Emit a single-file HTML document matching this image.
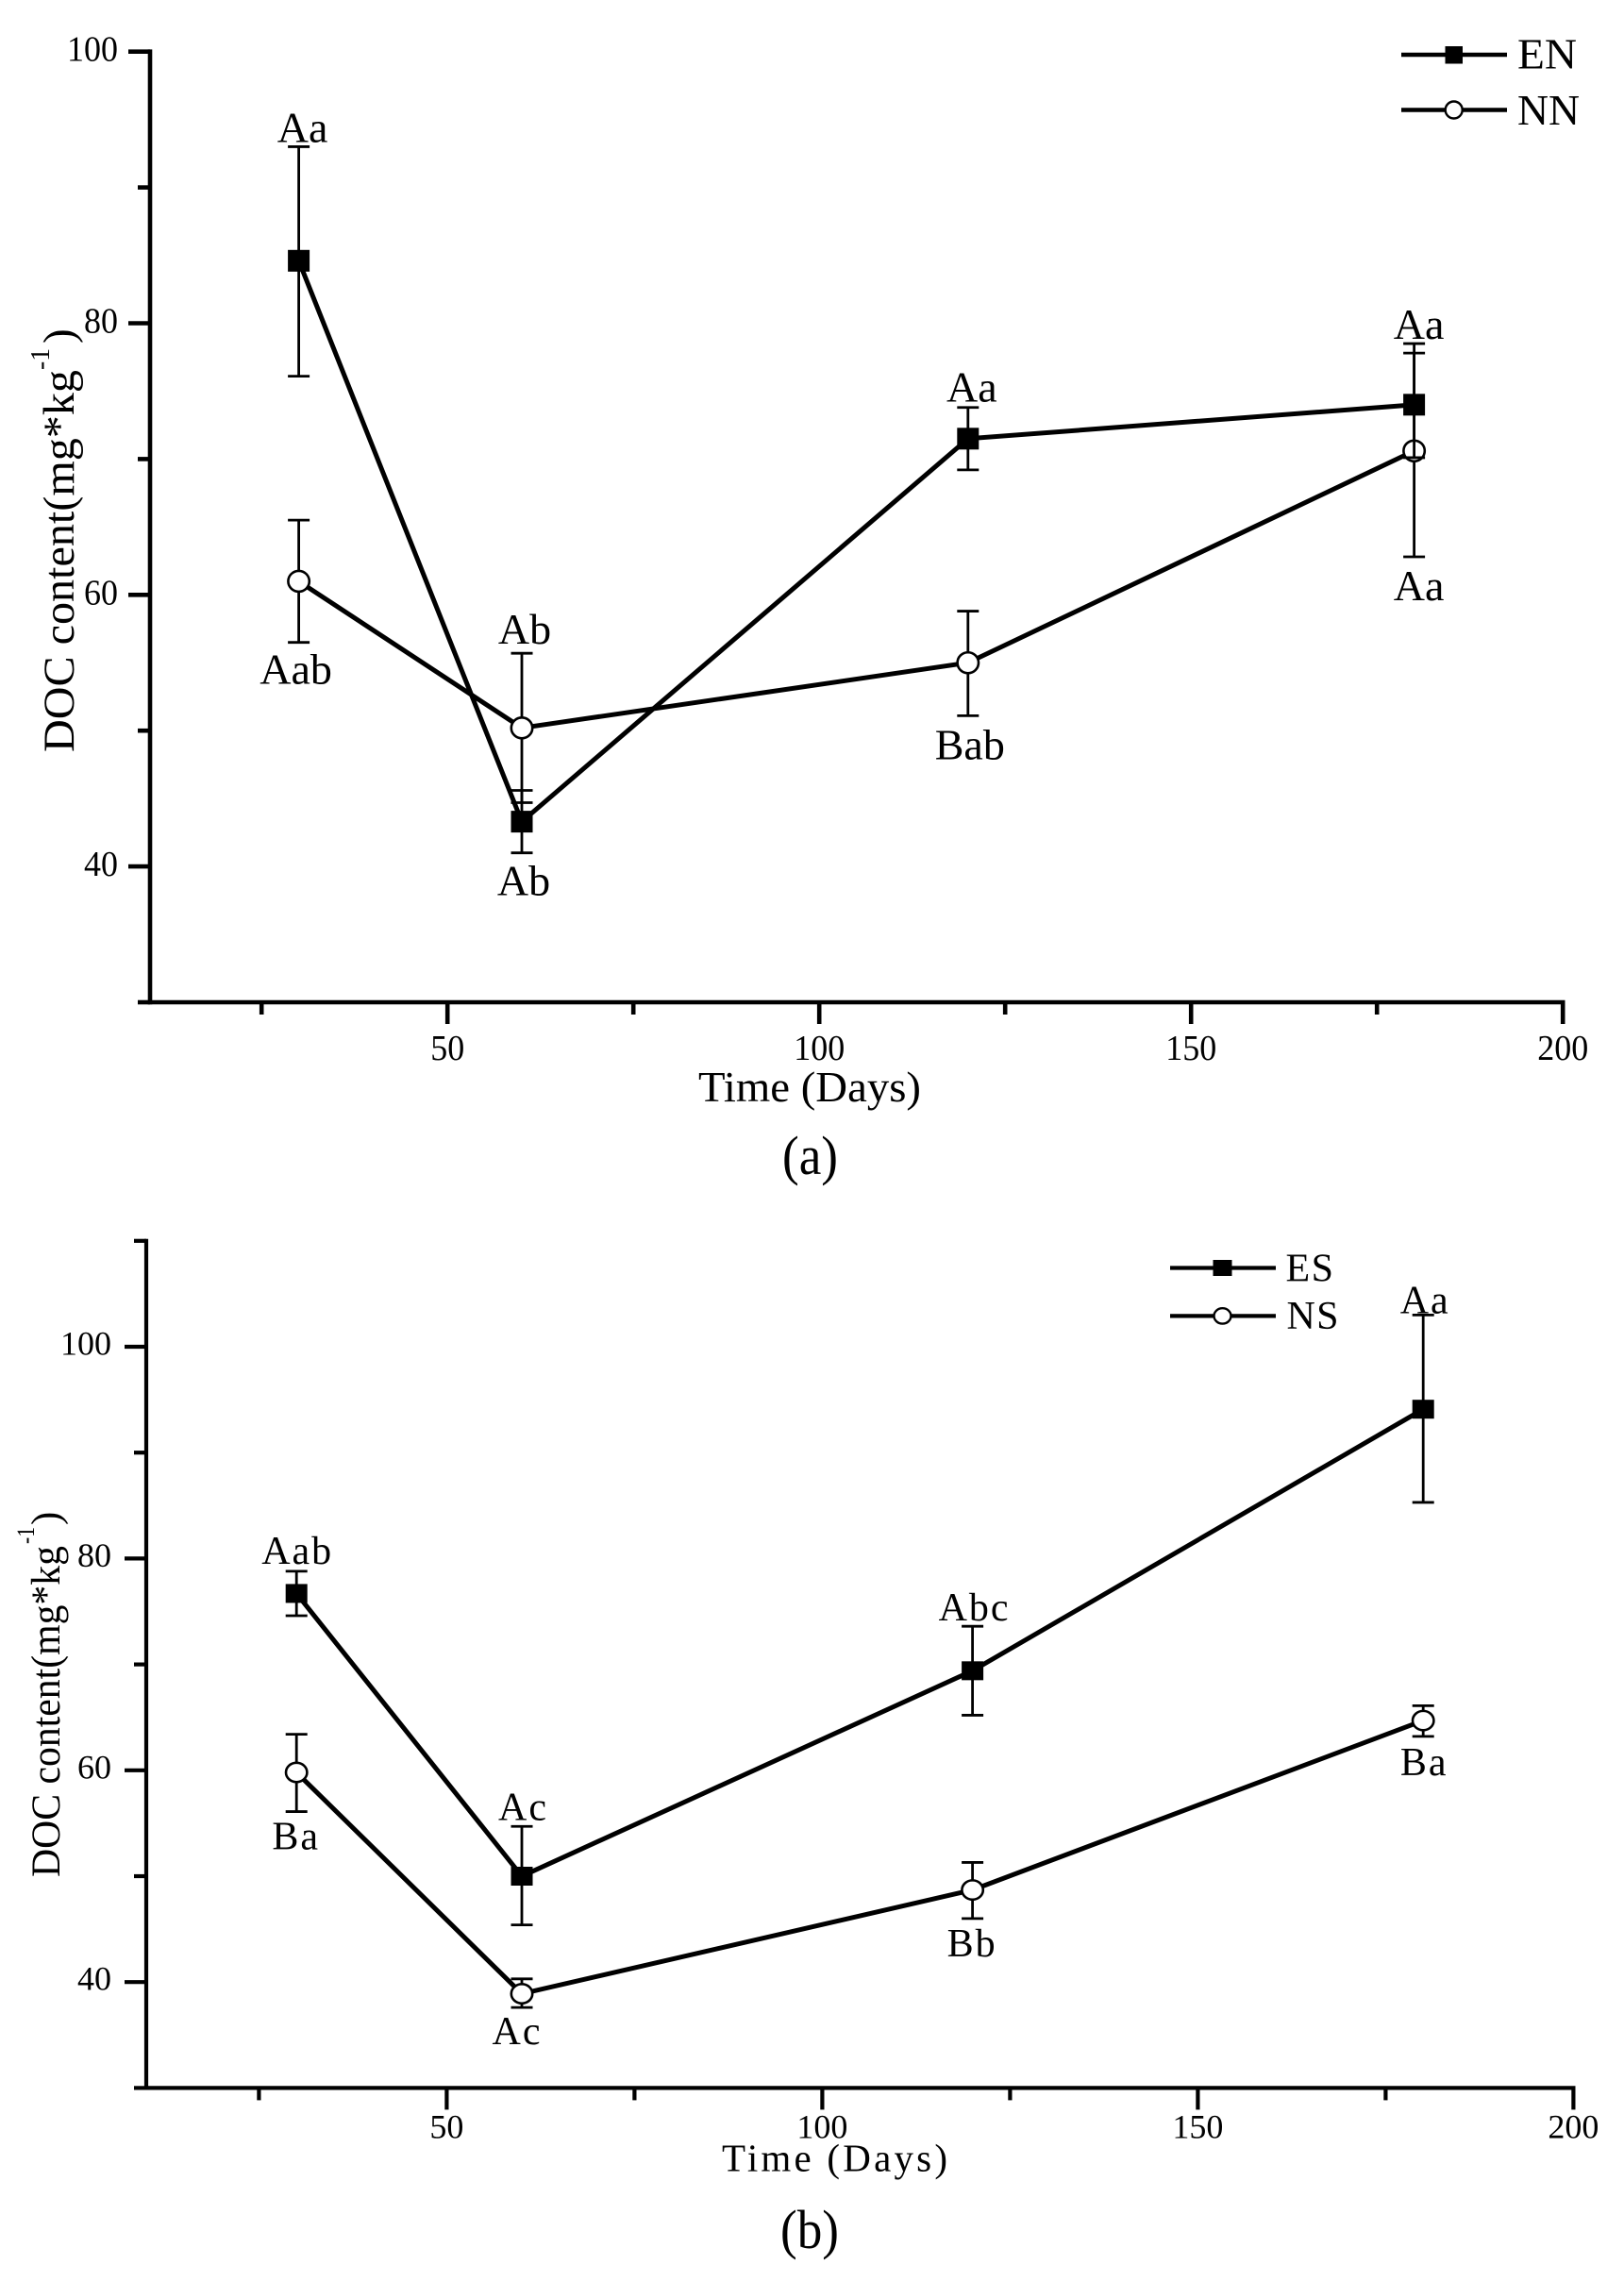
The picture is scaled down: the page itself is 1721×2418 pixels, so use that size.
<!DOCTYPE html>
<html lang="en">
<head>
<meta charset="utf-8">
<title>DOC content over time</title>
<style>
  html, body { margin: 0; padding: 0; background: #fff; }
  svg { display: block; }
  text { font-family: "Liberation Serif", "Times New Roman", serif; fill: #000; }
</style>
</head>
<body>
<svg id="figure" xmlns="http://www.w3.org/2000/svg" width="1721" height="2418" viewBox="0 0 1721 2418">
  <rect width="1721" height="2418" fill="#fff"/>

  <g id="panel-a"></g>
  <g id="panel-b"></g>

  <!-- Panel (a) static text -->
  <text x="740" y="1167" font-size="46" textLength="236" lengthAdjust="spacingAndGlyphs">Time (Days)</text>
  <text x="829" y="1244" font-size="58" textLength="59" lengthAdjust="spacingAndGlyphs">(a)</text>
  <g>
    <text transform="translate(78,797) rotate(-90)" font-size="47" textLength="405" lengthAdjust="spacingAndGlyphs">DOC content(mg*kg</text>
    <text transform="translate(52,392) rotate(-90)" font-size="28" textLength="23" lengthAdjust="spacingAndGlyphs">-1</text>
    <text transform="translate(78,364) rotate(-90)" font-size="47">)</text>
  </g>
  <g>
    <g>
      <line x1="1485" x2="1597" y1="58" y2="58" stroke="#000" stroke-width="4.4"/>
      <rect x="1531.5" y="49" width="18.5" height="18.5" fill="#000"/>
      <text x="1608" y="72.6" font-size="46" textLength="63" lengthAdjust="spacingAndGlyphs">EN</text>
    </g>
    <g>
      <line x1="1485" x2="1597" y1="116.5" y2="116.5" stroke="#000" stroke-width="4.4"/>
      <circle cx="1540.7" cy="116.5" r="9" fill="#fff" stroke="#000" stroke-width="2.4"/>
      <text x="1608" y="132" font-size="46" textLength="66" lengthAdjust="spacingAndGlyphs">NN</text>
    </g>
  </g>

  <!-- Panel (b) static text -->
  <text x="765" y="2300.7" font-size="41" textLength="239" lengthAdjust="spacing">Time (Days)</text>
  <text x="827" y="2382" font-size="58" textLength="62" lengthAdjust="spacingAndGlyphs">(b)</text>
  <g>
    <text transform="translate(63,1989) rotate(-90)" font-size="43" textLength="351" lengthAdjust="spacingAndGlyphs">DOC content(mg*kg</text>
    <text transform="translate(36,1636) rotate(-90)" font-size="26" textLength="18" lengthAdjust="spacingAndGlyphs">-1</text>
    <text transform="translate(63,1616) rotate(-90)" font-size="43">)</text>
  </g>
  <g>
    <g>
      <line x1="1240" x2="1352" y1="1343.5" y2="1343.5" stroke="#000" stroke-width="4.2"/>
      <rect x="1285.5" y="1335" width="20" height="17" fill="#000"/>
      <text x="1362.5" y="1357.7" font-size="42" textLength="50.5" lengthAdjust="spacing">ES</text>
    </g>
    <g>
      <line x1="1240" x2="1352" y1="1394.4" y2="1394.4" stroke="#000" stroke-width="4.2"/>
      <ellipse cx="1295.5" cy="1394.4" rx="9" ry="8.2" fill="#fff" stroke="#000" stroke-width="2.4"/>
      <text x="1363.5" y="1408" font-size="42" textLength="55" lengthAdjust="spacing">NS</text>
    </g>
  </g>
</svg>

<script>
// ---- chart data ----
const days = [30, 60, 120, 180];

const enValues = [84.6, 43.3, 71.5, 74.0];
const enUpper  = [93.0, 45.6, 73.8, 77.8];
const enLower  = [76.1, 41.0, 69.2, 70.1];
const enLetters = ['Aa', 'Ab', 'Aa', 'Aa'];

const nnValues = [61.0, 50.2, 55.0, 70.6];
const nnUpper  = [65.5, 55.7, 58.8, 78.5];
const nnLower  = [56.5, 44.7, 51.1, 62.8];
const nnLetters = ['Aab', 'Ab', 'Bab', 'Aa'];

const esValues = [76.7, 50.0, 69.4, 94.1];
const esUpper  = [78.8, 54.7, 73.6, 103.0];
const esLower  = [74.6, 45.4, 65.2, 85.3];
const esLetters = ['Aab', 'Ac', 'Abc', 'Aa'];

const nsValues = [59.8, 38.9, 48.7, 64.7];
const nsUpper  = [63.4, 40.3, 51.3, 66.1];
const nsLower  = [56.1, 37.6, 46.0, 63.2];
const nsLetters = ['Ba', 'Ac', 'Bb', 'Ba'];

const xMajorTicks = [50, 100, 150, 200];
const xMinorTicks = [25, 75, 125, 175];
const yMajorTicks = [100, 80, 60, 40];
const yMinorTicksA = [90, 70, 50, 30];
const yMinorTicksB = [110, 90, 70, 50, 30];

// ---- drawing ----
const SVGNS = 'http://www.w3.org/2000/svg';

function add(parent, tag, attrs, name) {
  const node = document.createElementNS(SVGNS, tag);
  for (const k in attrs) node.setAttribute(k, attrs[k]);
  
  
  parent.appendChild(node);
  return node;
}

function hline(p, x1, x2, y, w, name) {
  return add(p, 'line', { x1: x1, x2: x2, y1: y, y2: y, stroke: '#000', 'stroke-width': w }, name);
}
function vline(p, x, y1, y2, w, name) {
  return add(p, 'line', { x1: x, x2: x, y1: y1, y2: y2, stroke: '#000', 'stroke-width': w }, name);
}

function drawAxes(p, c, yMinor) {
  const left = c.x(10), bottom = c.y(30);
  vline(p, left, c.y(c.yMax) - c.axisW / 2, bottom + c.axisW / 2, c.axisW, 'y-axis-line');
  hline(p, left - c.axisW / 2, c.x(200) + c.axisW / 2, bottom, c.axisW, 'x-axis-line');

  yMajorTicks.forEach(function (v) {
    hline(p, left - 23, left, c.y(v), c.axisW, 'y-major-tick-' + v);
    const label = add(p, 'text', {
      x: c.yLabelRight, y: c.y(v) + c.yLabelDrop, 'text-anchor': 'end',
      'font-size': c.tickFont, textLength: String(v).length * 18, lengthAdjust: 'spacingAndGlyphs'
    }, 'y-tick-label-' + v);
    label.textContent = String(v);
  });
  yMinor.forEach(function (v) {
    hline(p, left - 13, left, c.y(v), c.axisW, 'y-minor-tick-' + v);
  });
  xMajorTicks.forEach(function (v) {
    vline(p, c.x(v), bottom, bottom + 23, c.axisW, 'x-major-tick-' + v);
    const label = add(p, 'text', {
      x: c.x(v), y: c.xLabelBase, 'text-anchor': 'middle',
      'font-size': c.tickFont, textLength: String(v).length * 18, lengthAdjust: 'spacingAndGlyphs'
    }, 'x-tick-label-' + v);
    label.textContent = String(v);
  });
  xMinorTicks.forEach(function (v) {
    vline(p, c.x(v), bottom, bottom + 13, c.axisW, 'x-minor-tick-' + v);
  });
}

function drawSeries(p, c, s) {
  const g = add(p, 'g', {}, 'series-' + s.id);

  days.forEach(function (d, i) {
    const x = c.x(d);
    vline(g, x, c.y(s.upper[i]), c.y(s.lower[i]), 2.8, 'error-bar-' + s.id + '-' + d);
    hline(g, x - 11.5, x + 11.5, c.y(s.upper[i]), 2.8, 'error-cap-upper-' + s.id + '-' + d);
    hline(g, x - 11.5, x + 11.5, c.y(s.lower[i]), 2.8, 'error-cap-lower-' + s.id + '-' + d);
  });

  const pts = days.map(function (d, i) { return c.x(d) + ',' + c.y(s.values[i]); }).join(' ');
  add(g, 'polyline', { points: pts, fill: 'none', stroke: '#000', 'stroke-width': 5, 'stroke-linejoin': 'miter' }, 'line-' + s.id);

  days.forEach(function (d, i) {
    const x = c.x(d), y = c.y(s.values[i]);
    if (s.filled) {
      add(g, 'rect', { x: x - 11.5, y: y - c.sqH / 2, width: 23, height: c.sqH, fill: '#000' }, 'point-' + s.id + '-' + d);
    } else {
      add(g, 'ellipse', { cx: x, cy: y, rx: 11.2, ry: c.circRy, fill: '#fff', stroke: '#000', 'stroke-width': 2.6 }, 'point-' + s.id + '-' + d);
    }
    const anchorValue = s.above[i] ? s.upper[i] : s.lower[i];
    const t = add(g, 'text', {
      x: x + s.labelDx[i], y: c.y(anchorValue) + s.labelDy[i], 'text-anchor': 'middle',
      'font-size': c.letterFont, style: 'letter-spacing:' + c.letterGap + 'px'
    }, 'significance-label-' + s.id + '-' + d);
    t.textContent = s.letters[i];
  });

  return g;
}

const panelA = {
  x: function (v) { return 159 + (v - 10) * 7.88; },
  y: function (v) { return 54.7 + (100 - v) * 14.39; },
  yMax: 100, axisW: 4.6, tickFont: 38, yLabelRight: 125, yLabelDrop: 10, xLabelBase: 1123,
  sqH: 23, circRy: 11, letterFont: 46, letterGap: 0
};
const panelB = {
  x: function (v) { return 155 + (v - 10) * 7.96; },
  y: function (v) { return 1427 + (100 - v) * 11.22; },
  yMax: 110, axisW: 4.2, tickFont: 36, yLabelRight: 118, yLabelDrop: 8.5, xLabelBase: 2265.7,
  sqH: 20, circRy: 10.2, letterFont: 42, letterGap: 2
};

const gA = document.getElementById('panel-a');
const gB = document.getElementById('panel-b');

drawAxes(gA, panelA, yMinorTicksA);
drawSeries(gA, panelA, {
  id: 'nn', filled: false, values: nnValues, upper: nnUpper, lower: nnLower, letters: nnLetters,
  above: [false, true, false, false], labelDx: [-3, 3, 2, 5], labelDy: [44, -10, 46, 46]
});
drawSeries(gA, panelA, {
  id: 'en', filled: true, values: enValues, upper: enUpper, lower: enLower, letters: enLetters,
  above: [true, false, true, true], labelDx: [4, 2, 4, 5], labelDy: [-5, 45, -6, -15]
});

drawAxes(gB, panelB, yMinorTicksB);
drawSeries(gB, panelB, {
  id: 'ns', filled: false, values: nsValues, upper: nsUpper, lower: nsLower, letters: nsLetters,
  above: [false, false, false, false], labelDx: [-0.5, -5, -0.5, 1], labelDy: [40, 39, 40, 41]
});
drawSeries(gB, panelB, {
  id: 'es', filled: true, values: esValues, upper: esUpper, lower: esLower, letters: esLetters,
  above: [true, true, true, true], labelDx: [1, 1.5, 2, 2], labelDy: [-8, -7, -6, -2]
});
</script>
</body>
</html>
